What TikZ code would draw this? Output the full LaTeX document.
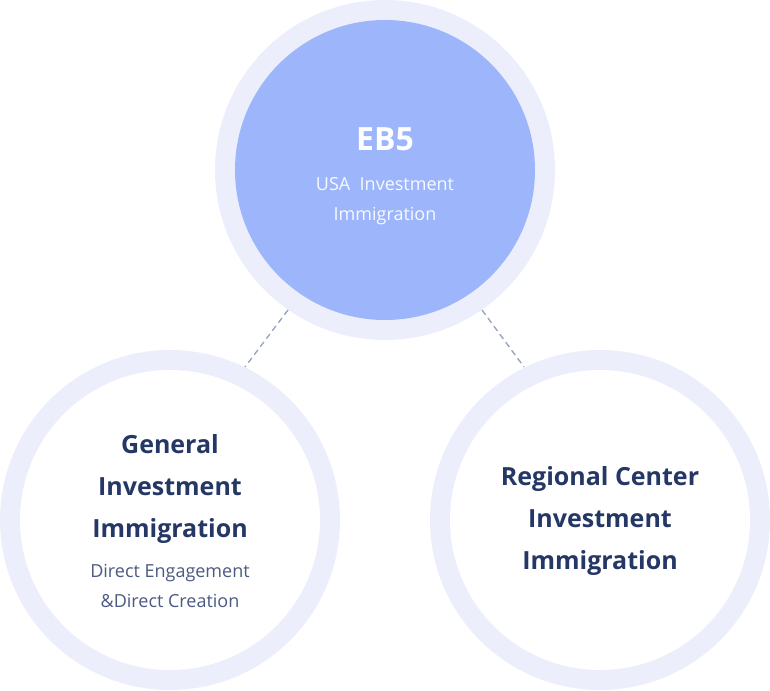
\documentclass[tikz,border=0pt]{standalone}
\usepackage{fontspec}
\setmainfont{Open Sans}
\definecolor{ring}{HTML}{ECEEFB}
\definecolor{fillb}{HTML}{9DB6FB}
\definecolor{navy}{HTML}{253765}
\definecolor{sub}{HTML}{4B5A82}
\definecolor{dashc}{HTML}{9AA5C0}
\begin{document}
\begin{tikzpicture}[x=1pt,y=-1pt,
  ringc/.style={circle,fill=ring,minimum size=340pt,inner sep=0pt},
  title/.style={font=\fontsize{25}{42}\selectfont\bfseries,text=navy,align=center},
  subt/.style={font=\fontsize{18}{30}\selectfont,text=sub,align=center},
  conn/.style={dashc,dash pattern=on 6pt off 4pt,line width=1.4pt}]
\useasboundingbox (0,0) rectangle (770,690);
\node[ringc] (t) at (385,170) {};
\node[ringc] (l) at (170,520) {};
\node[ringc] (r) at (600,520) {};
\fill[fillb] (385,170) circle (150);
\fill[white] (170,520) circle (150);
\fill[white] (600,520) circle (150);
\coordinate (a1) at (288,310); \coordinate (a2) at (245,367);
\coordinate (b1) at (482,310); \coordinate (b2) at (524,367);
\draw[conn] (a1) -- (a2);
\draw[conn] (b1) -- (b2);
\node[font=\fontsize{32}{36}\selectfont\bfseries,text=white] (eb) at (385,139) {EB5};
\node[subt,text=white!92!fillb] (ebs) at (385,201) {USA\ \ Investment\\Immigration};
\node[title] (lt) at (170,489) {General\\Investment\\Immigration};
\node[subt] (ls) at (170,586) {Direct Engagement\\\&Direct Creation};
\node[title] (rt) at (600,521) {Regional Center\\Investment\\Immigration};
\end{tikzpicture}
\end{document}
